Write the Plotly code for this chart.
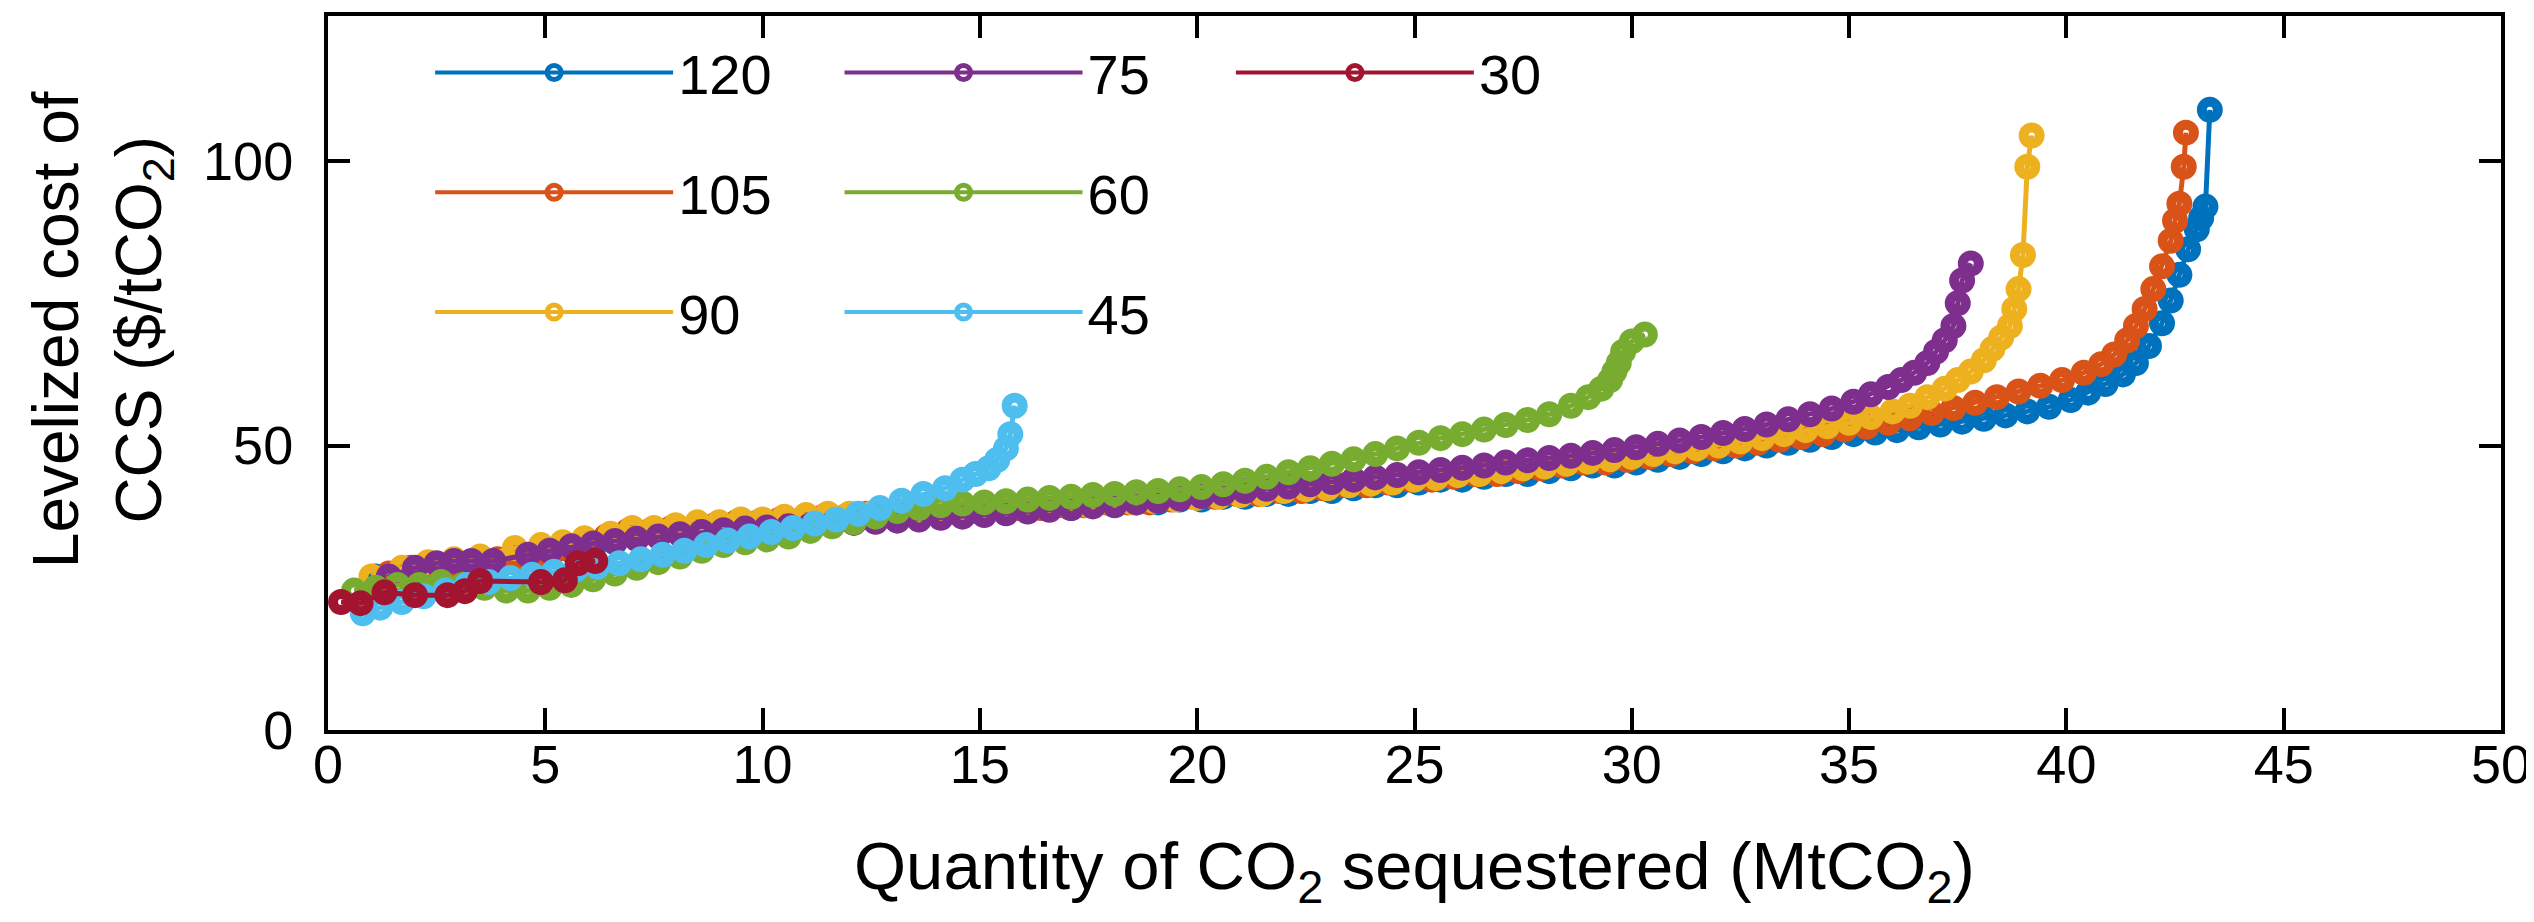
import plotly.graph_objects as go

# ---------------- data ----------------
series_names = ["120", "105", "90", "75", "60", "45", "30"]
series_colors = ["#0072BD", "#D95319", "#EDB120", "#7E2F8E", "#77AC30", "#4DBEEE", "#A2142F"]
legend_ids = ["legend", "legend", "legend", "legend2", "legend2", "legend2", "legend3"]

pts_120 = [(1.1, 27.0), (1.6, 27.5), (2.1, 28.0), (2.6, 28.5), (3.1, 29.0), (3.6, 29.0), (4.1, 29.5), (4.6, 30.0),
           (5.1, 30.5), (5.6, 31.5), (6.1, 32.0), (6.6, 33.0), (7.1, 34.0), (7.6, 34.5), (8.1, 35.0), (8.6, 35.5),
           (9.1, 35.5), (9.6, 36.0), (10.1, 36.0), (10.6, 36.5), (11.1, 37.0), (11.6, 37.0), (12.1, 37.5), (12.6, 37.5),
           (13.1, 38.0), (13.6, 38.0), (14.1, 38.0), (14.6, 38.5), (15.1, 38.5), (15.6, 38.5), (16.1, 39.0), (16.6, 39.0),
           (17.1, 39.0), (17.6, 39.5), (18.1, 39.5), (18.6, 40.0), (19.1, 40.0), (19.6, 40.5), (20.1, 40.5), (20.6, 41.0),
           (21.1, 41.0), (21.6, 41.5), (22.1, 41.5), (22.6, 42.0), (23.1, 42.0), (23.6, 42.5), (24.1, 43.0), (24.6, 43.0),
           (25.1, 43.5), (25.6, 44.0), (26.1, 44.0), (26.6, 44.5), (27.1, 45.0), (27.6, 45.0), (28.1, 45.5), (28.6, 46.0),
           (29.1, 46.5), (29.6, 46.5), (30.1, 47.0), (30.6, 47.5), (31.1, 48.0), (31.6, 48.5), (32.1, 49.0), (32.6, 49.5),
           (33.1, 50.0), (33.6, 50.5), (34.1, 51.0), (34.6, 51.5), (35.1, 52.0), (35.6, 52.3), (36.1, 52.7), (36.6, 53.2),
           (37.1, 53.7), (37.6, 54.2), (38.1, 54.7), (38.6, 55.3), (39.1, 56.0), (39.6, 56.8), (40.1, 58.0), (40.5, 59.3),
           (40.9, 60.8), (41.3, 62.5), (41.6, 64.5), (41.9, 67.5), (42.2, 71.5), (42.4, 75.5), (42.6, 80.0), (42.8, 84.5),
           (43.0, 88.0), (43.1, 90.0), (43.2, 92.0), (43.3, 109.0)]

pts_105 = [(1.4, 27.5), (1.9, 28.5), (2.4, 28.5), (2.9, 29.0), (3.4, 29.5), (3.9, 30.0), (4.4, 30.5), (4.9, 31.0),
           (5.4, 32.0), (5.9, 33.0), (6.4, 34.0), (6.9, 35.0), (7.4, 35.0), (7.9, 35.5), (8.4, 35.5), (8.9, 36.0),
           (9.4, 36.5), (9.9, 36.5), (10.4, 37.0), (10.9, 37.0), (11.4, 37.5), (11.9, 37.5), (12.4, 38.0), (12.9, 38.0),
           (13.4, 38.0), (13.9, 38.5), (14.4, 38.5), (14.9, 38.5), (15.4, 39.0), (15.9, 39.0), (16.4, 39.0), (16.9, 39.5),
           (17.4, 39.5), (17.9, 40.0), (18.4, 40.0), (18.9, 40.0), (19.4, 40.5), (19.9, 41.0), (20.4, 41.0), (20.9, 41.5),
           (21.4, 41.5), (21.9, 42.0), (22.4, 42.0), (22.9, 42.5), (23.4, 43.0), (23.9, 43.0), (24.4, 43.5), (24.9, 44.0),
           (25.4, 44.0), (25.9, 44.5), (26.4, 45.0), (26.9, 45.0), (27.4, 45.5), (27.9, 46.0), (28.4, 46.5), (28.9, 47.0),
           (29.4, 47.0), (29.9, 47.5), (30.4, 48.0), (30.9, 48.5), (31.4, 49.0), (31.9, 49.5), (32.4, 50.0), (32.9, 50.5),
           (33.4, 51.0), (33.9, 51.5), (34.4, 52.0), (34.9, 52.8), (35.4, 53.3), (35.9, 54.0), (36.4, 54.8), (36.9, 55.7),
           (37.4, 56.6), (37.9, 57.5), (38.4, 58.5), (38.9, 59.5), (39.4, 60.5), (39.9, 61.5), (40.4, 62.8), (40.8, 64.3),
           (41.1, 66.0), (41.4, 68.5), (41.6, 71.0), (41.8, 74.0), (42.0, 77.5), (42.2, 81.5), (42.4, 86.0), (42.5, 89.5),
           (42.6, 92.5), (42.7, 99.0), (42.75, 105.0)]

pts_90 = [(1.0, 27.0), (1.7, 28.5), (2.3, 29.5), (2.9, 30.0), (3.5, 30.5), (4.3, 32.0), (4.9, 32.5), (5.4, 33.0),
          (5.9, 33.7), (6.5, 34.5), (7.0, 35.5), (7.5, 35.5), (8.0, 36.0), (8.5, 36.5), (9.0, 36.5), (9.5, 37.0),
          (10.0, 37.0), (10.5, 37.5), (11.0, 37.8), (11.5, 38.0), (12.0, 38.0), (12.5, 38.0), (13.0, 38.3), (13.5, 38.5),
          (14.0, 38.5), (14.5, 38.5), (15.0, 38.8), (15.5, 39.0), (16.0, 39.0), (16.5, 39.3), (17.0, 39.5), (17.5, 39.5),
          (18.0, 40.0), (18.5, 40.0), (19.0, 40.3), (19.5, 40.5), (20.0, 40.8), (20.5, 41.0), (21.0, 41.3), (21.5, 41.5),
          (22.0, 42.0), (22.5, 42.3), (23.0, 42.5), (23.5, 43.0), (24.0, 43.3), (24.5, 43.5), (25.0, 44.0), (25.5, 44.3),
          (26.0, 44.8), (26.5, 45.0), (27.0, 45.5), (27.5, 46.0), (28.0, 46.3), (28.5, 46.8), (29.0, 47.2), (29.5, 47.6),
          (30.0, 48.0), (30.5, 48.5), (31.0, 49.0), (31.5, 49.5), (32.0, 50.0), (32.5, 50.7), (33.0, 51.3), (33.5, 52.0),
          (34.0, 52.7), (34.5, 53.4), (35.0, 54.0), (35.5, 55.0), (36.0, 56.0), (36.4, 57.0), (36.8, 58.5), (37.2, 60.0),
          (37.5, 61.5), (37.8, 63.0), (38.1, 65.0), (38.3, 67.0), (38.5, 69.0), (38.7, 71.0), (38.8, 74.0), (38.9, 77.5),
          (39.0, 83.5), (39.1, 99.0), (39.2, 104.5)]

pts_75 = [(1.4, 27.0), (2.0, 28.5), (2.5, 29.3), (2.9, 29.7), (3.3, 29.7), (3.8, 29.7), (4.6, 30.8), (5.1, 31.5),
          (5.6, 32.3), (6.1, 32.8), (6.6, 33.2), (7.1, 33.6), (7.6, 34.0), (8.1, 34.4), (8.6, 34.8), (9.1, 35.1),
          (9.6, 35.4), (10.1, 35.6), (10.6, 35.8), (11.1, 36.0), (11.6, 36.2), (12.1, 36.4), (12.6, 36.6), (13.1, 36.8),
          (13.6, 37.0), (14.1, 37.3), (14.6, 37.5), (15.1, 37.8), (15.6, 38.1), (16.1, 38.4), (16.6, 38.7), (17.1, 39.0),
          (17.6, 39.3), (18.1, 39.6), (18.6, 40.0), (19.1, 40.3), (19.6, 40.7), (20.1, 41.1), (20.6, 41.6), (21.1, 42.0),
          (21.6, 42.4), (22.1, 42.8), (22.6, 43.2), (23.1, 43.6), (23.6, 44.0), (24.1, 44.4), (24.6, 44.8), (25.1, 45.3),
          (25.6, 45.7), (26.1, 46.1), (26.6, 46.5), (27.1, 47.0), (27.6, 47.4), (28.1, 47.8), (28.6, 48.2), (29.1, 48.7),
          (29.6, 49.2), (30.1, 49.7), (30.6, 50.3), (31.1, 50.9), (31.6, 51.5), (32.1, 52.2), (32.6, 52.9), (33.1, 53.7),
          (33.6, 54.6), (34.1, 55.5), (34.6, 56.5), (35.1, 57.7), (35.5, 59.0), (35.9, 60.3), (36.2, 61.5), (36.5, 62.8),
          (36.8, 64.5), (37.0, 66.5), (37.2, 68.5), (37.4, 71.0), (37.5, 75.0), (37.6, 79.0), (37.8, 82.0)]

pts_60 = [(0.6, 24.5), (1.1, 25.0), (1.6, 25.5), (2.1, 25.5), (2.6, 26.0), (3.1, 25.5), (3.6, 25.0), (4.1, 24.5),
          (4.6, 24.5), (5.1, 25.0), (5.6, 25.5), (6.1, 26.5), (6.6, 27.5), (7.1, 28.5), (7.6, 29.5), (8.1, 30.5),
          (8.6, 31.5), (9.1, 32.5), (9.6, 33.0), (10.1, 33.5), (10.6, 34.0), (11.1, 35.0), (11.6, 35.8), (12.1, 36.5),
          (12.6, 37.5), (13.1, 38.5), (13.6, 39.0), (14.1, 39.5), (14.6, 39.8), (15.1, 40.0), (15.6, 40.2), (16.1, 40.5),
          (16.6, 40.8), (17.1, 41.0), (17.6, 41.3), (18.1, 41.5), (18.6, 41.8), (19.1, 42.0), (19.6, 42.3), (20.1, 42.7),
          (20.6, 43.2), (21.1, 43.8), (21.6, 44.5), (22.1, 45.3), (22.6, 46.0), (23.1, 46.8), (23.6, 47.6), (24.1, 48.5),
          (24.6, 49.5), (25.1, 50.5), (25.6, 51.3), (26.1, 52.0), (26.6, 52.8), (27.1, 53.6), (27.6, 54.5), (28.1, 55.5),
          (28.6, 57.0), (29.0, 58.5), (29.3, 60.0), (29.5, 61.5), (29.6, 63.0), (29.7, 64.5), (29.8, 66.5), (30.0, 68.3),
          (30.3, 69.5)]

pts_45 = [(0.8, 20.5), (1.2, 21.5), (1.7, 22.5), (2.2, 23.5), (2.7, 24.5), (3.2, 25.5), (3.7, 26.0), (4.2, 26.7),
          (4.7, 27.3), (5.2, 27.8), (5.7, 28.2), (6.2, 28.7), (6.7, 29.3), (7.2, 30.0), (7.7, 30.8), (8.2, 31.5),
          (8.7, 32.5), (9.2, 33.3), (9.7, 34.0), (10.2, 34.8), (10.7, 35.5), (11.2, 36.3), (11.7, 37.0), (12.2, 38.0),
          (12.7, 39.0), (13.2, 40.3), (13.7, 41.5), (14.2, 42.5), (14.6, 44.0), (14.9, 45.0), (15.2, 46.0), (15.4, 47.5),
          (15.6, 49.5), (15.7, 52.0), (15.8, 57.0)]

pts_30 = [(0.3, 22.5), (0.75, 22.3), (1.3, 24.2), (2.0, 23.7), (2.75, 23.7), (3.15, 24.4), (3.5, 26.2), (4.9, 26.0),
          (5.45, 26.3), (5.75, 29.3), (6.15, 29.7)]

series_points = [pts_120, pts_105, pts_90, pts_75, pts_60, pts_45, pts_30]

x_tick_values = [0, 5, 10, 15, 20, 25, 30, 35, 40, 45, 50]
y_tick_values = [0, 50, 100]

x_title = "Quantity of CO<sub>2</sub> sequestered (MtCO<sub>2</sub>)"
y_title = "Levelized cost of<br>CCS ($/tCO<sub>2</sub>)"

# ---------------- figure ----------------
FONT = "Liberation Sans, Arial, Helvetica, sans-serif"
fig = go.Figure()

for name, pts, color in zip(series_names, series_points, series_colors):
    fig.add_trace(go.Scatter(
        x=[p[0] for p in pts], y=[p[1] for p in pts],
        mode="lines+markers", name=name, showlegend=False, hoverinfo="skip",
        line=dict(color=color, width=5),
        marker=dict(symbol="circle-open", size=16, color=color, line=dict(width=10, color=color)),
        cliponaxis=False,
    ))

for name, color, lg in zip(series_names, series_colors, legend_ids):
    fig.add_trace(go.Scatter(
        x=[None], y=[None], mode="lines+markers", name=name, legend=lg, legendgroup=name,
        line=dict(color=color, width=4),
        marker=dict(symbol="circle-open", size=14, color=color, line=dict(width=5, color=color)),
    ))

leg_common = dict(
    font=dict(family=FONT, size=56, color="black"),
    bgcolor="rgba(0,0,0,0)", itemwidth=238, tracegroupgap=44,
    xanchor="left", yanchor="top", traceorder="grouped", borderwidth=0,
)

axis_common = dict(
    ticks="inside", ticklen=22, tickwidth=4, tickcolor="black",
    showline=True, linewidth=4, linecolor="black", mirror="ticks",
    showgrid=False, zeroline=False,
    tickfont=dict(family=FONT, size=54, color="black"),
)

fig.update_layout(
    width=2534, height=922,
    margin=dict(l=320, r=41, t=8, b=200, autoexpand=False),
    paper_bgcolor="white", plot_bgcolor="white",
    font=dict(family=FONT, color="black"),
    xaxis=dict(range=[0, 50], tickvals=x_tick_values, ticklabelstandoff=-16, **axis_common),
    yaxis=dict(range=[0, 125.5], tickvals=y_tick_values, ticklabelstandoff=20, **axis_common),
    legend=dict(x=0.047, y=0.981, **leg_common),
    legend2=dict(x=0.2354, y=0.981, **leg_common),
    legend3=dict(x=0.4155, y=0.981, **leg_common),
    annotations=[
        dict(text=x_title, xref="paper", yref="paper", x=0.5, y=-0.135, xanchor="center", yanchor="top",
             showarrow=False, font=dict(family=FONT, size=67, color="black")),
        dict(text=y_title, xref="paper", yref="paper", x=-0.104, y=0.56, xanchor="center", yanchor="middle",
             textangle=-90, showarrow=False, font=dict(family=FONT, size=64, color="black")),
    ],
)

fig.write_html("out.html")
